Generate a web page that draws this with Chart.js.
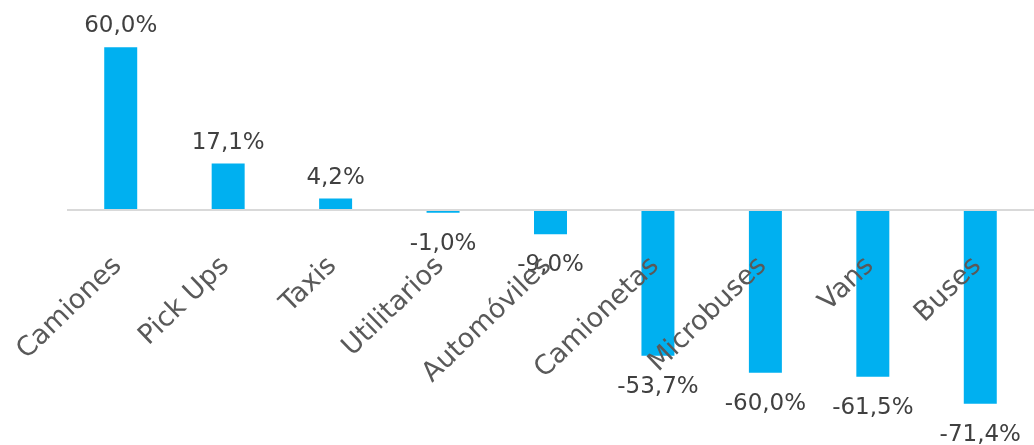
<!DOCTYPE html>
<html>
<head>
<meta charset="utf-8">
<script src="https://cdn.jsdelivr.net/npm/chart.js@4"></script>
<style>
    html, body { margin: 0; padding: 0; background: #fff; }
    #wrap { width: 1034px; height: 445px; position: relative; }
</style>
</head>
<body>
<div id="wrap"><canvas id="myChart"></canvas></div>
<script>
const categories = ['Camiones', 'Pick Ups', 'Taxis', 'Utilitarios', 'Automóviles', 'Camionetas', 'Microbuses', 'Vans', 'Buses'];
const variation = [60.0, 17.1, 4.2, -1.0, -9.0, -53.7, -60.0, -61.5, -71.4];

const barColor = '#00B0F0';
const valueColor = '#404040';
const catColor = '#595959';

const fmt = (v) => v.toFixed(1).replace('.', ',') + '%';

// value labels over / under each bar, and the slanted category names at the zero line
const labelsPlugin = {
    id: 'labels',
    afterDatasetsDraw(chart) {
        const c = chart.ctx;
        const meta = chart.getDatasetMeta(0);
        const xs = chart.scales.x;
        const ys = chart.scales.y;
        const zero = ys.getPixelForValue(0);

        c.save();
        c.fillStyle = valueColor;
        c.font = '23px "DejaVu Sans"';
        c.textAlign = 'center';
        c.textBaseline = 'alphabetic';
        meta.data.forEach((bar, i) => {
            const v = variation[i];
            const y = v >= 0 ? bar.y - 15 : bar.y + 37;
            c.fillText(fmt(v), bar.x, y);
        });

        c.fillStyle = catColor;
        c.font = '27px "DejaVu Sans"';
        c.textAlign = 'right';
        c.textBaseline = 'middle';
        categories.forEach((name, i) => {
            const x = xs.getPixelForValue(i);
            c.save();
            c.translate(x - 3, zero + 52);
            c.rotate(-44 * Math.PI / 180);
            c.fillText(name, 0, 0);
            c.restore();
        });
        c.restore();
    }
};

const data = {
    labels: categories,
    datasets: [{
        data: variation,
        backgroundColor: barColor,
        borderWidth: 0,
        barPercentage: 0.307,
        categoryPercentage: 1
    }]
};

const config = {
    type: 'bar',
    data: data,
    options: {
        responsive: true,
        maintainAspectRatio: false,
        animation: false,
        layout: { padding: { left: 67, right: 0, top: 20, bottom: 18 } },
        plugins: {
            legend: { display: false },
            tooltip: { enabled: false }
        },
        scales: {
            x: { display: false },
            y: {
                min: -80,
                max: 70,
                ticks: { display: false, stepSize: 10 },
                border: { display: false },
                grid: {
                    drawTicks: false,
                    lineWidth: 2,
                    color: (ctx) => ctx.tick && ctx.tick.value === 0 ? '#D9D9D9' : 'rgba(0,0,0,0)'
                }
            }
        }
    },
    plugins: [labelsPlugin]
};

let myChart = new Chart(document.getElementById('myChart'), config);
</script>
</body>
</html>
